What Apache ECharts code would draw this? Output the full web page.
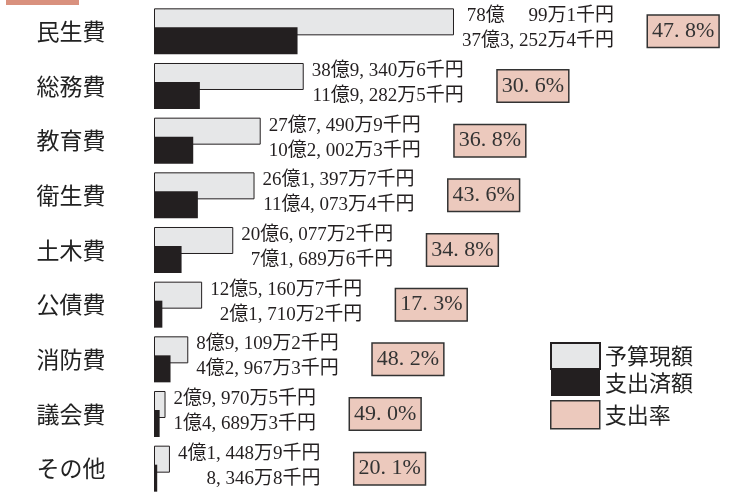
<!DOCTYPE html>
<html>
<head>
<meta charset="utf-8">
<script src="https://cdn.jsdelivr.net/npm/echarts@6/dist/echarts.min.js"></script>
<style>
html,body{margin:0;padding:0;background:#fff;}
#c{width:730px;height:497px;}
</style>
</head>
<body>
<div id="c"></div>
<script>
// ---- data (億円) ----
const categories = ['民生費','総務費','教育費','衛生費','土木費','公債費','消防費','議会費','その他'];
const budget = [78.00991, 38.93406, 27.74909, 26.13977, 20.60772, 12.51607, 8.91092, 2.99705, 4.14489];
const spent  = [37.32524, 11.92825, 10.20023, 11.40734, 7.16896, 2.17102, 4.29673, 1.46893, 0.83468];
const rate   = [47.8, 30.6, 36.8, 43.6, 34.8, 17.3, 48.2, 49.0, 20.1];
const budgetText = ['78億\u3000 99万1千円','38億9, 340万6千円','27億7, 490万9千円','26億1, 397万7千円','20億6, 077万2千円','12億5, 160万7千円','8億9, 109万2千円','2億9, 970万5千円','4億1, 448万9千円'];
const spentText  = ['37億3, 252万4千円','11億9, 282万5千円','10億2, 002万3千円','11億4, 073万4千円','7億1, 689万6千円','2億1, 710万2千円','4億2, 967万3千円','1億4, 689万3千円','8, 346万8千円'];

const VAL_FONT = '"Liberation Serif", "Noto Sans CJK JP", serif';
const SANS = '"Noto Sans CJK JP", "Noto Sans", sans-serif';
const VAL_SIZE = 19;

// measure label block widths to place the rate boxes after them
const cv = document.createElement('canvas').getContext('2d');
cv.font = VAL_SIZE + 'px ' + VAL_FONT;
const blockW = budgetText.map((t, i) => Math.max(cv.measureText(t).width, cv.measureText(spentText[i]).width));

const chart = echarts.init(document.getElementById('c'));
chart.setOption({
  animation: false,
  backgroundColor: '#fff',
  graphic: [{ type: 'rect', left: 6, top: 0, shape: { width: 73, height: 5 }, style: { fill: '#d9917e' } }],
  grid: { left: 154, right: 276, top: 4, bottom: 1 },
  xAxis: [
    { type: 'value', min: 0, max: 78.01, show: false },
    { type: 'value', min: 0, max: 78.01, show: false }
  ],
  yAxis: [
    {
      type: 'category', data: categories, inverse: true,
      axisLine: { show: false }, axisTick: { show: false }, splitLine: { show: false },
      axisLabel: { align: 'center', margin: 83, fontSize: 23, color: '#222', fontFamily: SANS, padding: [6, 0, 0, 0] }
    },
    { type: 'category', data: categories, inverse: true, show: false }
  ],
  legend: [
    {
      orient: 'vertical', left: 545, top: 337, itemWidth: 49, itemHeight: 26, itemGap: 0,
      icon: 'rect', data: ['予算現額', '支出済額'],
      textStyle: { fontSize: 22, color: '#222', fontFamily: SANS, lineHeight: 26 }
    },
    {
      orient: 'vertical', left: 545, top: 395, itemWidth: 49, itemHeight: 28, itemGap: 0,
      icon: 'rect',
      data: [{ name: '支出率', itemStyle: { color: '#ecc9bd', borderColor: '#333', borderWidth: 1.5, opacity: 1 } }],
      textStyle: { fontSize: 22, color: '#222', fontFamily: SANS, lineHeight: 28 }
    }
  ],
  series: [
    {
      name: '予算現額', type: 'bar', data: budget, barWidth: 27, barGap: '-29.6%',
      itemStyle: { color: '#e6e7e8', borderColor: '#231f20', borderWidth: 1 },
      label: {
        show: true, position: 'right', distance: 8, offset: [0, 7],
        formatter: p => '{r|' + budgetText[p.dataIndex] + '}\n{r|' + spentText[p.dataIndex] + '}',
        rich: { r: { align: 'right', fontSize: VAL_SIZE, lineHeight: 25, color: '#231f20', fontFamily: VAL_FONT } }
      }
    },
    {
      name: '支出済額', type: 'bar', data: spent, barWidth: 27,
      itemStyle: { color: '#231f20' }
    },
    {
      name: '支出率', type: 'bar', xAxisIndex: 1, yAxisIndex: 1, barWidth: 1,
      data: budget.map((v, i) => ({
        value: v,
        label: { offset: [blockW[i] + 34, 0] }
      })),
      itemStyle: { color: 'rgba(0,0,0,0)' },
      label: {
        show: true, position: 'right', distance: 8,
        formatter: p => rate[p.dataIndex].toFixed(1).replace('.', '. ') + '%',
        fontSize: 22, color: '#333', fontFamily: VAL_FONT,
        backgroundColor: '#ecc9bd', borderColor: '#333', borderWidth: 1.5,
        padding: [6, 4, 3, 4]
      }
    }
  ]
});
</script>
</body>
</html>
